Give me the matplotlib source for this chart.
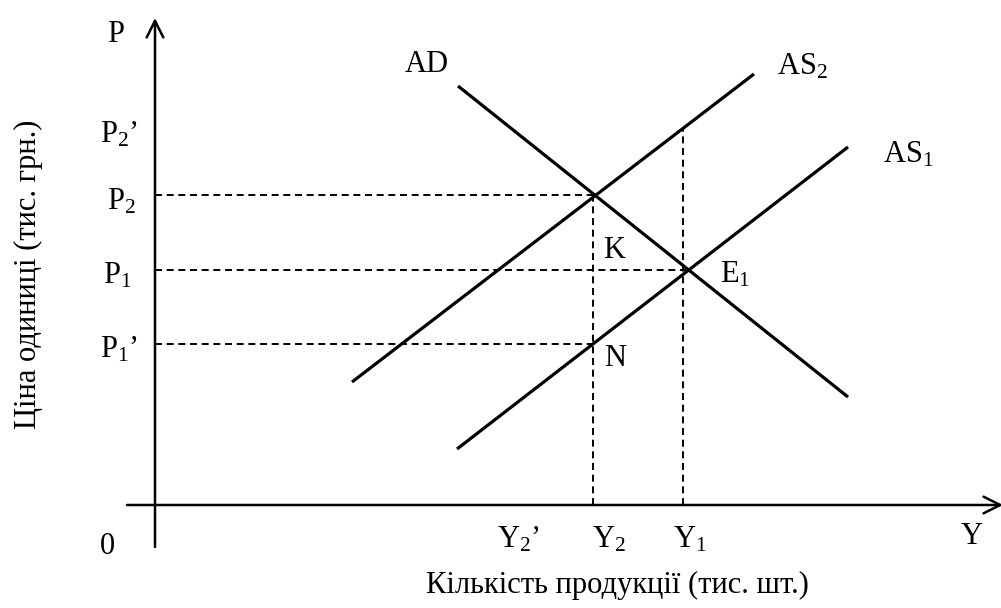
import matplotlib
matplotlib.use("Agg")
import matplotlib.pyplot as plt

plt.rcParams['font.family'] = ['Liberation Serif', 'DejaVu Serif']
plt.rcParams['mathtext.fontset'] = 'custom'
plt.rcParams['mathtext.rm'] = 'Liberation Serif'
plt.rcParams['mathtext.it'] = 'Liberation Serif:italic'
plt.rcParams['mathtext.bf'] = 'Liberation Serif:bold'

# ---- data (arbitrary economic units) ----
AD_x = [30.3, 69.3]
AD_y = [41.9, 10.8]
AS1_x = [30.2, 69.3]
AS1_y = [5.6, 35.8]
AS2_x = [19.7, 59.9]
AS2_y = [12.3, 43.1]

Y1 = 52.8
Y2 = 43.8
E1_x = 53.3
P1 = 23.5
P2 = 31.0
P1p = 16.1
P2p = 37.7

fig = plt.figure(figsize=(10.01, 6.08), dpi=100)
ax = fig.add_axes([0, 0, 1, 1])
ax.set_xlim(-15.5, 84.6)
ax.set_ylim(-10.3, 50.5)
ax.axis('off')

# axes with open arrows
arrow_kw = dict(arrowstyle='->', lw=1.8, color='black', mutation_scale=30,
                shrinkA=0, shrinkB=0)
ax.annotate('', xy=(0, 48.7), xytext=(0, -4.2), arrowprops=arrow_kw,
            annotation_clip=False)
ax.annotate('', xy=(84.8, 0), xytext=(-2.8, 0), arrowprops=arrow_kw,
            annotation_clip=False)

# curves
for xs, ys in [(AD_x, AD_y), (AS1_x, AS1_y), (AS2_x, AS2_y)]:
    ax.plot(xs, ys, color='black', lw=2.3, solid_capstyle='butt')

# dashed guides
dash = dict(color='black', lw=1.4, linestyle=(0, (3.6, 2.4)))
ax.plot([0, Y2], [P2, P2], **dash)
ax.plot([0, E1_x], [P1, P1], **dash)
ax.plot([0, Y2], [P1p, P1p], **dash)
ax.plot([Y2, Y2], [0, P2], **dash)
ax.plot([Y1, Y1], [0, P2p], **dash)

fs = 22
def lab(x, y, s, ha='center'):
    ax.text(x, y, s, fontsize=fs, ha=ha, va='center')

lab(-3.9, 47.1, 'P')
lab(27.2, 44.0, 'AD')
lab(62.2, 43.8, r'AS$_{2}$', ha='left')
lab(72.8, 35.0, r'AS$_{1}$', ha='left')
lab(-5.5, 37.0, r'P$_{2}$’', ha='left')
lab(-4.8, 30.3, r'P$_{2}$', ha='left')
lab(-5.2, 22.9, r'P$_{1}$', ha='left')
lab(-5.5, 15.5, r'P$_{1}$’', ha='left')
lab(45.9, 25.5, 'K')
lab(46.0, 14.7, 'N')
lab(56.5, 23.0, r'E$_{1}$', ha='left')
lab(-5.5, -4.1, '0', ha='left')
lab(34.2, -3.5, r'Y$_{2}$’', ha='left')
lab(43.7, -3.5, r'Y$_{2}$', ha='left')
lab(51.8, -3.5, r'Y$_{1}$', ha='left')
lab(81.7, -3.1, 'Y')

ax.text(46.2, -8.0, 'Кількість продукції (тис. шт.)', fontsize=fs,
        ha='center', va='center')
ax.text(-12.7, 23.1, 'Ціна одиниці (тис. грн.)', fontsize=fs,
        ha='center', va='center', rotation=90)

fig.savefig('out.png', dpi=100)
